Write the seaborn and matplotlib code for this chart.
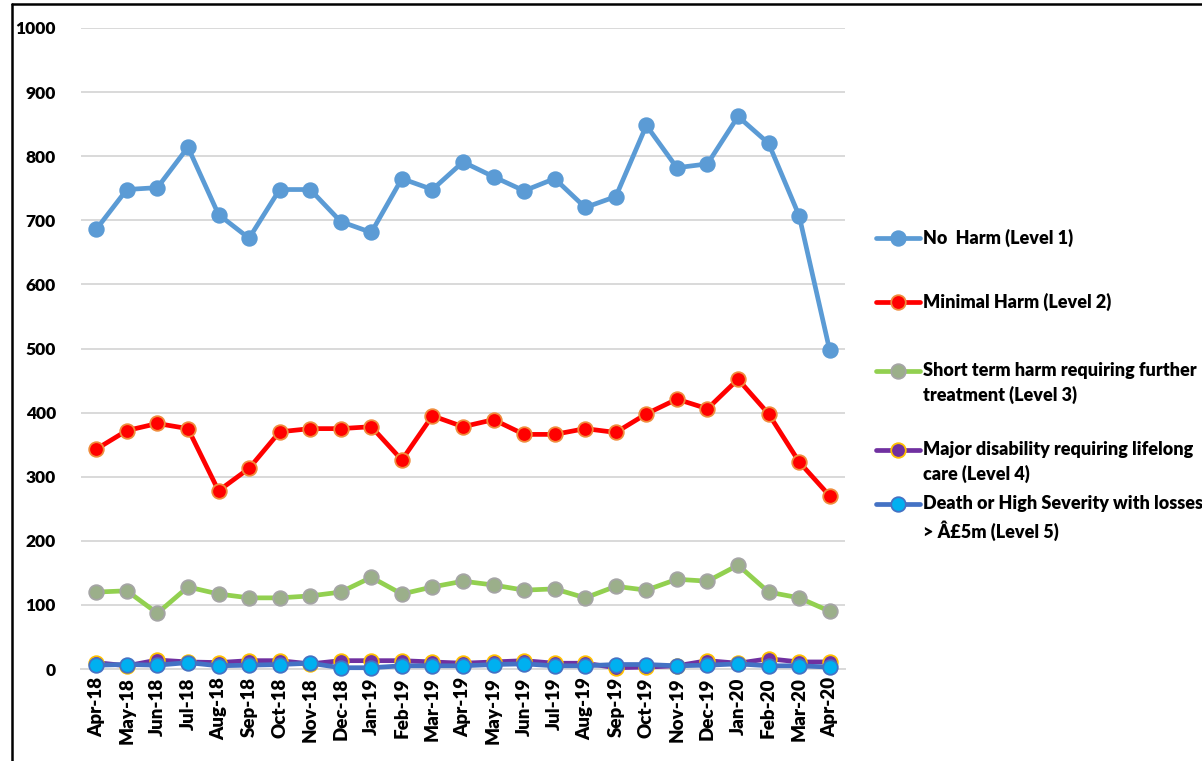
import matplotlib
matplotlib.use("Agg")
import matplotlib.pyplot as plt
from matplotlib.lines import Line2D
import seaborn as sns
import pandas as pd
import numpy as np

months = ["Apr-18", "May-18", "Jun-18", "Jul-18", "Aug-18", "Sep-18", "Oct-18",
          "Nov-18", "Dec-18", "Jan-19", "Feb-19", "Mar-19", "Apr-19", "May-19",
          "Jun-19", "Jul-19", "Aug-19", "Sep-19", "Oct-19", "Nov-19", "Dec-19",
          "Jan-20", "Feb-20", "Mar-20", "Apr-20"]

no_harm = [686, 748, 751, 814, 709, 672, 748, 748, 698, 681, 765, 748, 791, 768,
           746, 765, 720, 737, 848, 782, 788, 862, 820, 707, 497]
minimal_harm = [343, 372, 383, 375, 278, 313, 370, 375, 375, 378, 326, 395, 378, 389,
                366, 366, 375, 369, 398, 421, 406, 452, 398, 323, 270]
short_term = [120, 122, 87, 128, 117, 111, 111, 114, 120, 143, 117, 128, 137, 131,
              123, 125, 111, 129, 123, 140, 137, 162, 120, 111, 90]
major_disability = [10, 5, 14, 11, 10, 13, 13, 8, 13, 13, 13, 11, 9, 11,
                    13, 9, 9, 2, 3, 5, 13, 9, 16, 11, 11]
death_high = [6, 7, 6, 10, 5, 6, 7, 9, 2, 2, 5, 5, 5, 7,
              8, 5, 5, 7, 7, 5, 6, 8, 5, 5, 3]

series_names = ["No  Harm (Level 1)",
                "Minimal Harm (Level 2)",
                "Short term harm requiring further\ntreatment (Level 3)",
                "Major disability requiring lifelong\ncare (Level 4)",
                "Death or High Severity with losses\n> Â£5m (Level 5)"]
series_values = [no_harm, minimal_harm, short_term, major_disability, death_high]

# line colour, marker face, marker edge
styles = [("#5B9BD5", "#5B9BD5", "#5B9BD5"),
          ("#FF0000", "#FF0000", "#F08C3C"),
          ("#92D050", "#9BAF8A", "#A5A5A5"),
          ("#7030A0", "#7030A0", "#FFC000"),
          ("#4472C4", "#00B0F0", "#4472C4")]

sns.set_theme(style="white")
plt.rcParams["font.family"] = ["Lato", "DejaVu Sans"]
plt.rcParams["font.weight"] = "bold"

W, H = 1202, 761
fig = plt.figure(figsize=(W / 100, H / 100), dpi=100)

left_px, right_px, top_px, bottom_px = 81, 845, 28, 669
ax = fig.add_axes([left_px / W, 1 - bottom_px / H,
                   (right_px - left_px) / W, (bottom_px - top_px) / H])

LW, MS, MEW = 3.4, 10.5, 1.3

x = np.arange(len(months))
for name, vals, (lc, mf, me) in zip(series_names, series_values, styles):
    df = pd.DataFrame({"x": x, "value": vals})
    sns.lineplot(data=df, x="x", y="value", ax=ax, color=lc, linewidth=LW,
                 marker="o", markersize=MS, markerfacecolor=mf,
                 markeredgecolor=me, markeredgewidth=MEW, clip_on=False,
                 zorder=3)

ax.set_xlim(-0.5, len(months) - 0.5)
ax.set_ylim(0, 1000)
ax.set_yticks(np.arange(0, 1001, 100))
ax.set_yticklabels([str(v) for v in range(0, 1001, 100)], fontsize=12.5,
                   fontweight="heavy", color="black")
ax.set_xticks(x)
ax.set_xticklabels(months, rotation=90, fontsize=13.5, fontweight="heavy",
                   color="black")
ax.set_xlabel("")
ax.set_ylabel("")

ax.grid(axis="y", color="#D9D9D9", linewidth=1.4, zorder=0)
ax.grid(axis="x", visible=False)
for side in ["top", "right", "left"]:
    ax.spines[side].set_visible(False)
ax.spines["bottom"].set_color("#D9D9D9")
ax.spines["bottom"].set_linewidth(1.4)
ax.tick_params(axis="y", length=0, pad=18)
ax.tick_params(axis="x", length=0, pad=6)
# category boundary ticks on the x axis
ax.set_xticks(np.arange(-0.5, len(months), 1), minor=True)
ax.tick_params(axis="x", which="minor", length=6, width=1.4, color="#D9D9D9",
               direction="out")


def px(xp, yp):
    return xp / W, 1 - yp / H


# chart frame
for (xa, ya), (xb, yb) in [((12, 4), (12, H + 5)), ((12, 4), (W + 5, 4))]:
    (fx0, fx1), (fy0, fy1) = (px(xa, ya)[0], px(xb, yb)[0]), (px(xa, ya)[1], px(xb, yb)[1])
    fig.add_artist(Line2D([fx0, fx1], [fy0, fy1], color="black", linewidth=1.8))

# legend
legend_y = [238, 302, 371, 450, 504]
for (name, (lc, mf, me)), ly in zip(zip(series_names, styles), legend_y):
    x0, y0 = px(876, ly)
    x1, _ = px(920, ly)
    fig.add_artist(Line2D([x0, x1], [y0, y0], color=lc, linewidth=LW))
    fig.add_artist(Line2D([(x0 + x1) / 2], [y0], marker="o", markersize=MS,
                          markerfacecolor=mf, markeredgecolor=me,
                          markeredgewidth=MEW, linestyle="none"))
    tx, ty = px(923, ly - 9)
    fig.text(tx, ty, name, fontsize=13, fontweight="heavy", color="black",
             va="top", ha="left", linespacing=1.45)

fig.savefig("out.png", dpi=100)
